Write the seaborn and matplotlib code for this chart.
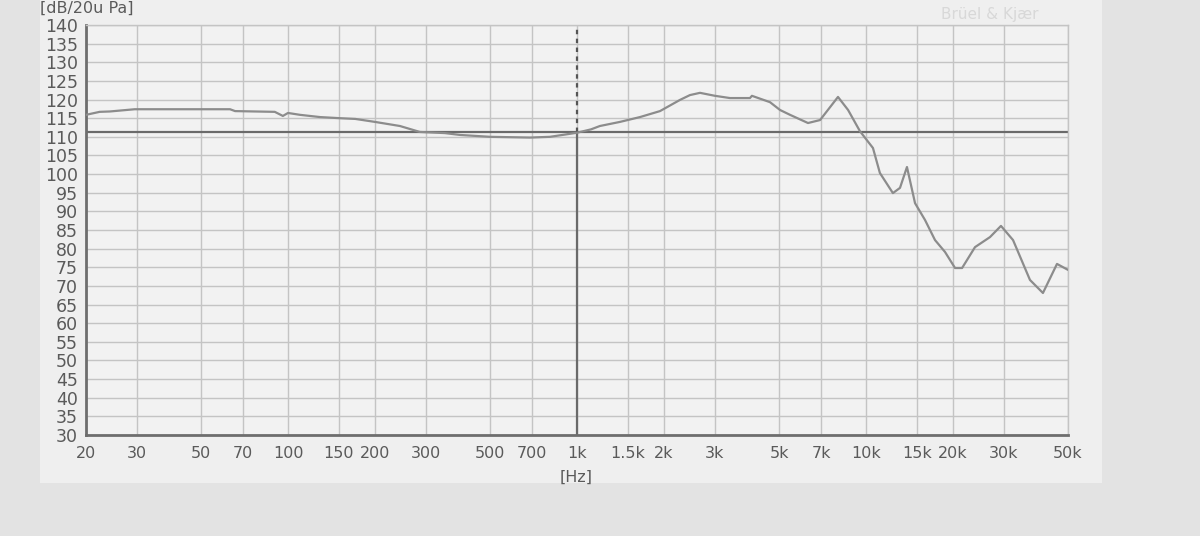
import seaborn as sns
import matplotlib.pyplot as plt
import matplotlib.patches as mpatches
import pandas as pd

# Frequency response
freq_hz = [20, 22.3, 24.2, 29.5, 40, 63, 65.6, 90, 96, 100, 110, 129, 151, 171,
           200, 244, 286, 349, 394, 500, 688, 806, 908, 1000, 1118, 1200, 1408,
           1652, 1937, 2271, 2460, 2665, 3002, 3383, 3967, 4030, 4653, 5041,
           5459, 6300, 6935, 8000, 8670, 9530, 10570, 11170, 12390, 13110,
           13860, 14780, 16000, 17330, 18770, 20330, 21500, 23830, 26860,
           29310, 32270, 36930, 40950, 45800, 50000]
level_db = [115.9, 116.7, 116.8, 117.4, 117.4, 117.4, 116.9, 116.7, 115.6, 116.4,
            115.9, 115.3, 115.0, 114.8, 114.0, 112.9, 111.3, 111.0, 110.5, 110.0,
            109.8, 110.0, 110.6, 111.1, 112.0, 112.9, 114.0, 115.3, 116.9, 119.9,
            121.2, 121.8, 121.0, 120.4, 120.4, 121.0, 119.3, 117.2, 115.9, 113.7,
            114.5, 120.7, 117.2, 111.5, 107.0, 100.3, 94.9, 96.3, 101.9, 92.2,
            87.7, 82.3, 79.1, 74.8, 74.8, 80.4, 83.1, 86.1, 82.3, 71.6, 68.1,
            75.9, 74.3]

ref_level = 111.2
ref_freq = 1000

x_ticks = [20, 30, 50, 70, 100, 150, 200, 300, 500, 700, 1000, 1500, 2000,
           3000, 5000, 7000, 10000, 15000, 20000, 30000, 50000]
x_labels = ["20", "30", "50", "70", "100", "150", "200", "300", "500", "700",
            "1k", "1.5k", "2k", "3k", "5k", "7k", "10k", "15k", "20k", "30k", "50k"]
y_ticks = list(range(30, 141, 5))

df = pd.DataFrame({"Frequency": freq_hz, "Level": level_db})

sns.set_style("whitegrid")
plt.rcParams["font.family"] = ["DejaVu Sans"]

fig = plt.figure(figsize=(12, 5.36), dpi=100)
fig.patch.set_facecolor("#e3e3e3")
# lighter panel behind the chart
panel = mpatches.Rectangle((40 / 1200, 1 - 483 / 536), 1062 / 1200, 483 / 536,
                           transform=fig.transFigure, facecolor="#efefef",
                           edgecolor="none", zorder=-5)
fig.add_artist(panel)

ax = fig.add_axes([86 / 1200, 1 - 435 / 536, 982 / 1200, 410 / 536])
ax.set_facecolor("#f2f2f2")

sns.lineplot(data=df, x="Frequency", y="Level", ax=ax, color="#8c8c8c",
             linewidth=1.6, zorder=3)

ax.set_xscale("log")
ax.set_xlim(20, 50000)
ax.set_ylim(30, 140)
ax.set_xticks(x_ticks)
ax.set_xticklabels(x_labels)
ax.minorticks_off()
ax.set_yticks(y_ticks)

ax.grid(True, color="#c4c4c4", linewidth=1.0)
ax.tick_params(axis="both", colors="#666666", labelcolor="#5a5a5a",
               length=5, width=1.5, pad=2)
ax.tick_params(axis="x", pad=3, labelsize=11.5)
ax.tick_params(axis="y", labelsize=12.5, pad=1)

for side in ["left", "bottom"]:
    ax.spines[side].set_color("#6e6e6e")
    ax.spines[side].set_linewidth(2)
for side in ["top", "right"]:
    ax.spines[side].set_color("#c4c4c4")
    ax.spines[side].set_linewidth(1)

# reference cursor lines
ax.axhline(ref_level, color="#6a6a6a", linewidth=1.6, zorder=2)
ax.plot([ref_freq, ref_freq], [30, ref_level], color="#6a6a6a", linewidth=1.6, zorder=2)
ax.plot([ref_freq, ref_freq], [ref_level, 140], color="#555555", linewidth=1.6,
        linestyle=(0, (2, 2)), zorder=2)

ax.set_xlabel("")
ax.set_ylabel("")
fig.text(40 / 1200, 1 - 8 / 536, "[dB/20u Pa]", fontsize=11.5, color="#5a5a5a",
         va="center", ha="left")
fig.text(576 / 1200, 1 - 477 / 536, "[Hz]", fontsize=11.5, color="#5a5a5a",
         va="center", ha="center")
fig.text(990 / 1200, 1 - 14 / 536, "Brüel & Kjær", fontsize=11, color="#d8d8d8",
         va="center", ha="center")

plt.savefig("out.png", dpi=100, facecolor=fig.get_facecolor())
plt.close()
